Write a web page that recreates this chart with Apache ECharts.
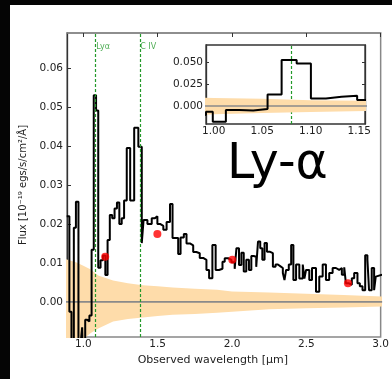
<!DOCTYPE html>
<html>
<head>
<meta charset="utf-8">
<script src="https://cdn.jsdelivr.net/npm/echarts@6/dist/echarts.min.js"></script>
<style>
  html, body { margin: 0; padding: 0; background: #050505; }
  #panel { position: absolute; left: 10px; top: 5px; width: 382px; height: 374px; background: #fff; }
  #chart { position: absolute; left: 0; top: 0; width: 392px; height: 379px; }
</style>
</head>
<body>
<div id="panel"></div>
<div id="chart"></div>
<script>
// spectrum: left bin edges [um] and flux [1e-19 erg/s/cm2/A]
const specEdge = [
  0.888, 0.906, 0.920, 0.936, 0.950, 0.967, 0.983, 0.992, 0.999, 1.0125,
  1.0262, 1.0407, 1.0555, 1.070, 1.0855, 1.1002, 1.1157, 1.1318, 1.1479, 1.163,
  1.178, 1.194, 1.210, 1.226, 1.242, 1.258, 1.274, 1.292, 1.315, 1.342,
  1.370, 1.393, 1.405, 1.431, 1.460, 1.482, 1.498, 1.516, 1.538, 1.560,
  1.583, 1.600, 1.616, 1.638, 1.654, 1.676, 1.694, 1.717, 1.739, 1.760,
  1.783, 1.806, 1.828, 1.846, 1.868, 1.890, 1.913, 1.936, 1.951, 1.974,
  1.996, 2.018, 2.030, 2.047, 2.063, 2.079, 2.096, 2.114, 2.130, 2.146,
  2.163, 2.175, 2.190, 2.204, 2.219, 2.235, 2.253, 2.275, 2.293, 2.309,
  2.324, 2.342, 2.353, 2.364, 2.382, 2.398, 2.413, 2.431, 2.453, 2.476,
  2.487, 2.498, 2.520, 2.538, 2.565, 2.587, 2.610, 2.632, 2.654, 2.677,
  2.699, 2.721, 2.739, 2.755, 2.766, 2.784, 2.806, 2.822, 2.844, 2.860,
  2.878, 2.896, 2.911, 2.922, 2.940, 2.956, 2.967, 2.978
];
const specFlux = [
  0.0220, -0.0025, -0.0120, 0.0190, 0.0257, -0.0120, -0.0100, -0.0065, -0.0180, -0.0046,
  -0.0050, -0.0035, 0.0134, 0.0530, 0.0491, 0.0088, 0.0107, 0.0119, 0.0069, 0.0159,
  0.0223, 0.0215, 0.0240, 0.0255, 0.0200, 0.0215, 0.0260, 0.0395, 0.0260, 0.0447,
  0.0398, 0.0151, 0.0210, 0.0200, 0.0215, 0.0220, 0.0200, 0.0195, 0.0185, 0.0205,
  0.0251, 0.0164, 0.0164, 0.0123, 0.0165, 0.0174, 0.0150, 0.0145, 0.0128, 0.0125,
  0.0113, 0.0108, 0.0082, 0.0061, 0.0146, 0.0082, 0.0085, 0.0103, 0.0112, 0.0108,
  0.0102, 0.0085, 0.0138, 0.0095, 0.0126, 0.0078, 0.0108, 0.0082, 0.0118, 0.0116,
  0.0090, 0.0155, 0.0138, 0.0108, 0.0151, 0.0129, 0.0125, 0.0090, 0.0096, 0.0092,
  0.0087, 0.0074, 0.0056, 0.0082, 0.0096, 0.0146, 0.0056, 0.0096, 0.0060, 0.0096,
  0.0060, 0.0082, 0.0056, 0.0087, 0.0026, 0.0065, 0.0096, 0.0056, 0.0074, 0.0087,
  0.0082, 0.0087, 0.0070, 0.0089, 0.0048, 0.0044, 0.0061, 0.0074, 0.0048, 0.0040,
  0.0030, 0.0120, 0.0108, 0.0030, 0.0087, 0.0030, 0.0065, 0.0070
];
const specLastEdge = 3.01;

// noise envelope
const errWave = [0.88, 0.95, 1.0, 1.05, 1.1, 1.2, 1.3, 1.4, 1.5, 1.6, 1.75, 1.9, 2.0, 2.25, 2.5, 2.75, 3.01];
const errUpper = [0.0110, 0.0102, 0.0093, 0.0083, 0.0068, 0.0055, 0.0048, 0.0043, 0.0040, 0.0037, 0.0034, 0.0031, 0.0027, 0.0024, 0.0021, 0.0018, 0.0014];
const errLower = [-0.0160, -0.0125, -0.0095, -0.0080, -0.0068, -0.0050, -0.0044, -0.0040, -0.0036, -0.0033, -0.0031, -0.0028, -0.0025, -0.0019, -0.0016, -0.0014, -0.0012];

// photometry points
const dotWave = [1.147, 1.498, 2.002, 2.78];
const dotFlux = [0.0116, 0.0174, 0.0108, 0.0048];

// emission lines
const lineWave = [1.0798, 1.3755];
const lineName = ['Lyα', 'C IV'];
const lineLabelY = 0.0655;

// ticks
const mainXTicks = [1.0, 1.5, 2.0, 2.5, 3.0];
const mainYTicks = [0.0, 0.01, 0.02, 0.03, 0.04, 0.05, 0.06];
const insetXTicks = [1.0, 1.05, 1.1, 1.15];
const insetYTicks = [0.0, 0.025, 0.05];

const FONT = 'DejaVu Sans';
const GREEN = '#23992a';
const BAND = '#fedcaa';

const specData = specEdge.map((x, i) => [x, specFlux[i]]);
specData.push([specLastEdge, specFlux[specFlux.length - 1]]);
const upperData = errWave.map((x, i) => [x, errUpper[i]]);
const lowerData = errWave.map((x, i) => [x, errLower[i]]);
const zeroData = [[errWave[0], 0], [errWave[errWave.length - 1], 0]];

function tickAxis(extra) {
  return Object.assign({
    type: 'value',
    splitLine: { show: false },
    axisLine: { show: true, lineStyle: { color: '#333', width: 1.3 } },
    axisTick: { show: true, inside: true, length: 4, lineStyle: { color: '#333', width: 1 } },
    axisLabel: { show: false }
  }, extra);
}
const labelStyle = { fontFamily: FONT, fontSize: 10.5, color: '#222' };

// band (upper half + lower half, both filled to zero), zero line, spectrum
function spectrumSeries(xi, yi, z, marks) {
  const band = d => ({
    type: 'line', xAxisIndex: xi, yAxisIndex: yi, z: z, data: d, symbol: 'none', silent: true,
    lineStyle: { opacity: 0 }, areaStyle: { color: BAND, opacity: 1, origin: 0 }
  });
  return [
    band(upperData),
    band(lowerData),
    { type: 'line', xAxisIndex: xi, yAxisIndex: yi, z: z, data: zeroData, symbol: 'none', silent: true,
      lineStyle: { color: '#8a8a8a', width: 1.6 },
      markLine: {
        silent: true, symbol: 'none', label: { show: false },
        lineStyle: { color: GREEN, type: [3, 2], width: 1.2 },
        data: marks.map(v => ({ xAxis: v }))
      } },
    { type: 'line', xAxisIndex: xi, yAxisIndex: yi, z: z + 1, data: specData, step: 'end', symbol: 'none',
      lineStyle: { color: '#000', width: 2 } }
  ];
}

const chart = echarts.init(document.getElementById('chart'));
chart.setOption({
  animation: false,
  backgroundColor: 'transparent',
  grid: [
    { left: 67, top: 33, width: 315, height: 304, show: true, borderColor: '#888', borderWidth: 1.5 },
    { left: 206, top: 45, width: 159, height: 79, show: true, backgroundColor: '#fff', borderColor: '#333', borderWidth: 1.3, z: 5 }
  ],
  xAxis: [
    tickAxis({ gridIndex: 0, position: 'bottom', min: 0.89, max: 3.0,
      axisTick: { show: true, inside: true, length: 4, customValues: mainXTicks, lineStyle: { color: '#333' } },
      axisLabel: Object.assign({ show: true, customValues: mainXTicks, margin: 2, formatter: v => v.toFixed(1) }, labelStyle),
      name: 'Observed wavelength [μm]', nameLocation: 'middle', nameGap: 14,
      nameTextStyle: { fontFamily: FONT, fontSize: 11, color: '#222', padding: [0, 22, 0, 0] } }),
    tickAxis({ gridIndex: 0, position: 'top', min: 0.89, max: 3.0,
      axisLine: { show: true, lineStyle: { color: '#888', width: 1.5 } },
      axisTick: { show: true, inside: true, length: 4, customValues: mainXTicks, lineStyle: { color: '#333' } } }),
    tickAxis({ gridIndex: 1, position: 'bottom', min: 0.992, max: 1.156, z: 6,
      axisTick: { show: true, inside: true, length: 3, customValues: insetXTicks, lineStyle: { color: '#333' } },
      axisLabel: Object.assign({ show: true, customValues: insetXTicks, margin: 2, formatter: v => v.toFixed(2) }, labelStyle) }),
    tickAxis({ gridIndex: 1, position: 'top', min: 0.992, max: 1.156, z: 6,
      axisTick: { show: true, inside: true, length: 3, customValues: insetXTicks, lineStyle: { color: '#333' } } })
  ],
  yAxis: [
    tickAxis({ gridIndex: 0, position: 'left', min: -0.009, max: 0.069,
      axisTick: { show: true, inside: true, length: 4, customValues: mainYTicks, lineStyle: { color: '#333' } },
      axisLabel: Object.assign({ show: true, customValues: mainYTicks, margin: 4, formatter: v => v.toFixed(2) }, labelStyle),
      name: 'Flux [10⁻¹⁹ egs/s/cm²/Å]', nameLocation: 'middle', nameGap: 38,
      nameTextStyle: { fontFamily: FONT, fontSize: 10, color: '#222' } }),
    tickAxis({ gridIndex: 1, position: 'left', min: -0.0207, max: 0.0704, z: 6,
      axisTick: { show: true, inside: true, length: 3, customValues: insetYTicks, lineStyle: { color: '#333' } },
      axisLabel: Object.assign({ show: true, customValues: insetYTicks, margin: 3, formatter: v => v.toFixed(3) }, labelStyle) }),
    tickAxis({ gridIndex: 1, position: 'right', min: -0.0207, max: 0.0704, z: 6,
      axisTick: { show: true, inside: true, length: 3, customValues: insetYTicks, lineStyle: { color: '#333' } } })
  ],
  graphic: [
    { type: 'text', left: 227, top: 141, z: 10,
      style: { text: 'Ly-α', font: '49px "DejaVu Sans"', fill: '#000' } }
  ],
  series: [
    ...spectrumSeries(0, 0, 2, lineWave),
    { type: 'scatter', xAxisIndex: 0, yAxisIndex: 0, z: 4, symbolSize: 8,
      itemStyle: { color: '#ff0000' },
      data: dotWave.map((x, i) => [x, dotFlux[i]]) },
    { type: 'scatter', xAxisIndex: 0, yAxisIndex: 0, z: 4, symbolSize: 0, silent: true,
      data: lineWave.map(x => [x, lineLabelY]),
      label: { show: true, position: 'right', distance: 1, formatter: p => lineName[p.dataIndex],
        fontFamily: FONT, fontSize: 8, color: GREEN } },
    ...spectrumSeries(2, 1, 7, lineWave.slice(0, 1))
  ]
});
</script>
</body>
</html>
